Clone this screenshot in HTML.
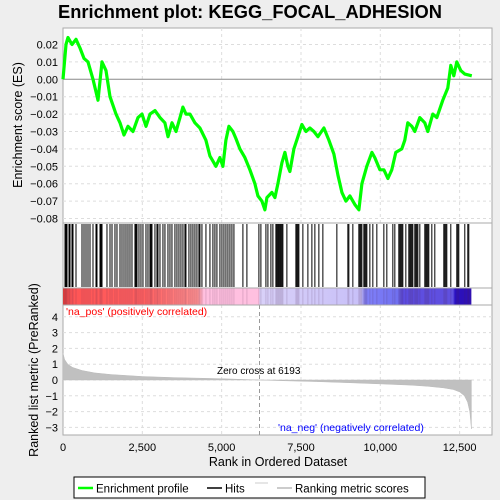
<!DOCTYPE html>
<html><head><meta charset="utf-8"><style>
body{margin:0;background:#eeeeee;}
svg{display:block;font-family:"Liberation Sans",sans-serif;}
</style></head><body>
<svg id="c" width="500" height="500" xmlns="http://www.w3.org/2000/svg">
<text x="250" y="18" text-anchor="middle" font-size="18.3" font-weight="bold" fill="#000">Enrichment plot: KEGG_FOCAL_ADHESION</text>
<rect x="63" y="28" width="429" height="407" fill="#fff" stroke="#aaa"/>
<g id="grid"></g>
<g id="es"></g>
<g id="hits"></g>
<g id="bar"></g>
<g id="metric"></g>
<g id="axes"></g>
<g>
<rect x="74" y="477" width="351" height="21" fill="#fff" stroke="#000"/>
<line x1="78" y1="488" x2="93" y2="488" stroke="#00ff00" stroke-width="2.5"/>
<text x="96" y="492.5" font-size="11.5">Enrichment profile</text>
<line x1="207" y1="488" x2="222" y2="488" stroke="#000" stroke-width="1.5"/>
<text x="225" y="492.5" font-size="11.5">Hits</text>
<line x1="255" y1="483" x2="268" y2="483" stroke="#ccc"/>
<line x1="277" y1="488" x2="292" y2="488" stroke="#bbb" stroke-width="1.5"/>
<text x="295" y="492.5" font-size="11.5">Ranking metric scores</text>
</g>
</svg>
<script>
const esRanks=[0,95,158,284,410,536,662,788,945,1103,1229,1355,1481,1670,1796,1922,2048,2205,2363,2489,2615,2741,2898,3056,3213,3308,3434,3560,3686,3780,3875,4001,4158,4316,4505,4631,4725,4820,4946,5040,5135,5229,5355,5450,5576,5733,5891,6048,6143,6269,6363,6426,6584,6678,6773,6899,6993,7088,7151,7277,7403,7529,7655,7781,7907,8033,8222,8379,8537,8663,8789,8915,9041,9198,9324,9419,9576,9734,9828,9986,10112,10238,10364,10490,10679,10773,10868,10994,11088,11246,11403,11498,11655,11781,11970,12128,12222,12317,12411,12537,12663,12884];
const esValues=[0,0.02,0.024,0.02,0.023,0.018,0.012,0.01,0.0,-0.012,0.01,0.005,-0.01,-0.02,-0.025,-0.032,-0.027,-0.03,-0.022,-0.02,-0.027,-0.02,-0.018,-0.022,-0.025,-0.033,-0.025,-0.03,-0.022,-0.016,-0.02,-0.02,-0.025,-0.028,-0.035,-0.044,-0.047,-0.05,-0.045,-0.05,-0.035,-0.027,-0.03,-0.034,-0.04,-0.045,-0.052,-0.06,-0.067,-0.07,-0.075,-0.068,-0.065,-0.068,-0.06,-0.048,-0.042,-0.05,-0.053,-0.04,-0.033,-0.026,-0.03,-0.028,-0.03,-0.033,-0.028,-0.035,-0.043,-0.055,-0.065,-0.07,-0.067,-0.072,-0.075,-0.06,-0.05,-0.042,-0.045,-0.052,-0.052,-0.057,-0.052,-0.042,-0.04,-0.035,-0.025,-0.027,-0.03,-0.022,-0.025,-0.03,-0.02,-0.022,-0.012,-0.005,0.008,0.002,0.01,0.005,0.003,0.002];
const hitRanks=[63,95,126,189,221,284,315,410,599,662,725,788,851,945,1040,1071,1166,1197,1229,1386,1481,1544,1638,1701,1796,1859,1922,1985,2048,2111,2174,2268,2300,2331,2394,2457,2520,2615,2678,2741,2772,2804,2898,2961,2993,3056,3150,3213,3308,3371,3434,3528,3591,3654,3717,3780,3843,3875,3969,4032,4095,4158,4221,4284,4316,4379,4505,4631,4725,4788,4851,4946,5009,5072,5135,5198,5261,5324,5387,5670,5796,6174,6237,6395,6458,6552,6615,6710,6741,6773,6804,6836,6867,6899,6930,7056,7340,7371,7403,7434,7560,7718,7844,7938,8064,8190,8631,8978,9009,9135,9324,9356,9387,9419,9482,9513,9545,9576,9671,9765,9891,10112,10206,10395,10458,10584,10616,10647,10679,10710,10805,10899,10931,10962,10994,11025,11088,11120,11151,11183,11246,11403,11435,11466,11498,11529,11624,11718,12002,12033,12065,12096,12222,12411,12443,12474,12663,12758,12789];
const metricRanks=[0,50,150,300,600,1000,1500,2500,3500,5000,6193,7000,8000,9000,10000,11000,11500,12000,12300,12500,12650,12750,12820,12850,12870];
const metricValues=[1.7,1.3,1.0,0.8,0.6,0.45,0.35,0.22,0.15,0.08,0.0,-0.05,-0.1,-0.17,-0.25,-0.33,-0.4,-0.5,-0.6,-0.75,-1.0,-1.4,-2.0,-2.6,-3.1];
const xTicks=[0,2500,5000,7500,10000,12500];
const xTickLabels=["0","2,500","5,000","7,500","10,000","12,500"];
const esTicks=[0.02,0.01,0,-0.01,-0.02,-0.03,-0.04,-0.05,-0.06,-0.07,-0.08];
const esTickLabels=["0.02","0.01","0.00","\u22120.01","\u22120.02","\u22120.03","\u22120.04","\u22120.05","\u22120.06","\u22120.07","\u22120.08"];
const mTicks=[4,3,2,1,0,-1,-2,-3];
const mTickLabels=["4","3","2","1","0","\u22121","\u22122","\u22123"];
const NS="http://www.w3.org/2000/svg";
const X=r=>63+r*0.03173;
const YE=v=>79.3-v*1740;
const YM=v=>380-v*15.8;
function mk(tag,attrs,parent){const e=document.createElementNS(NS,tag);for(const k in attrs)e.setAttribute(k,attrs[k]);document.getElementById(parent).appendChild(e);return e;}
xTicks.forEach(t=>{if(t===0)return;
 let g=mk('line',{x1:X(t),x2:X(t),y1:28,y2:223,stroke:'#ddd','stroke-dasharray':'3,3'},'grid');
 
 
 let g2=mk('line',{x1:X(t),x2:X(t),y1:305,y2:435,stroke:'#ddd','stroke-dasharray':'3,3'},'grid');
 
 
});
esTicks.forEach((t,i)=>{
 let g=mk('line',{x1:63,x2:492,y1:YE(t),y2:YE(t),stroke:t===0?'#888':'#ddd','stroke-dasharray':t===0?'':'3,3'},'grid');
 
 
 let tx=mk('text',{x:58,y:YE(t)+4,'text-anchor':'end','font-size':'11'},'axes');tx.textContent=esTickLabels[i];
 
 
});
mTicks.forEach((t,i)=>{
 let g=mk('line',{x1:63,x2:492,y1:YM(t),y2:YM(t),stroke:'#ddd','stroke-dasharray':'3,3'},'grid');
 
 
 let tx=mk('text',{x:58,y:YM(t)+4,'text-anchor':'end','font-size':'11'},'axes');tx.textContent=mTickLabels[i];
 
 
});
let zc=mk('line',{x1:X(6193),x2:X(6193),y1:305,y2:435,stroke:'#999','stroke-dasharray':'4,3'},'grid');


[223,288,305].forEach(y=>{let l=mk('line',{x1:63,x2:492,y1:y,y2:y,stroke:'#aaa'},'axes');
 
 });
let d=esRanks.map((r,i)=>(i?'L':'M')+X(r).toFixed(1)+','+YE(esValues[i]).toFixed(1)).join('');
let p=mk('path',{d:d,fill:'none',stroke:'#00ff00','stroke-width':3.2,'stroke-linejoin':'round'},'es');


hitRanks.forEach(r=>{let l=mk('line',{x1:X(r),x2:X(r),y1:224,y2:287,stroke:'#000','stroke-width':1},'hits');
 
 });
const defs=mk('defs',{},'bar');
const lg=document.createElementNS(NS,'linearGradient');lg.setAttribute('id','cb');defs.appendChild(lg);
[[0,'#d83a3a'],[0.02,'#ff5555'],[0.2,'#ff6060'],[0.33,'#ff9090'],[0.345,'#ffc0e0'],[0.48,'#ffc0e0'],[0.482,'#d8d0f8'],[0.73,'#c8c0f8'],[0.74,'#8080f8'],[0.82,'#7070f0'],[0.83,'#5c4ce0'],[0.955,'#6050e0'],[0.96,'#2a10c0'],[1,'#3010b0']].forEach(s=>{const st=document.createElementNS(NS,'stop');st.setAttribute('offset',s[0]);st.setAttribute('stop-color',s[1]);lg.appendChild(st);});
let cb=mk('rect',{x:63,y:288,width:X(12870)-63,height:17,fill:'url(#cb)'},'bar');


hitRanks.forEach(r=>{let l=mk('line',{x1:X(r),x2:X(r),y1:288,y2:305,stroke:'rgba(80,40,80,0.18)','stroke-width':1},'bar');
 
 });
let md='M'+X(0)+','+YM(0)+metricRanks.map((r,i)=>'L'+X(r).toFixed(1)+','+YM(metricValues[i]).toFixed(1)).join('')+'L'+X(12870)+','+YM(0)+'Z';
let ma=mk('path',{d:md,fill:'#c0c0c0',stroke:'#bbb','stroke-width':0.5},'metric');


xTicks.forEach((t,i)=>{let tx=mk('text',{x:X(t),y:451,'text-anchor':'middle','font-size':'11'},'axes');tx.textContent=xTickLabels[i];
 
 });
function txt(s,a,name){let t=mk('text',a,'axes');t.textContent=s;
 
 return t;}
txt('Rank in Ordered Dataset',{x:278,y:466,'text-anchor':'middle','font-size':'12.5'},'x-axis-title');
txt('Enrichment score (ES)',{x:0,y:0,'text-anchor':'middle','font-size':'12.5',transform:'translate(22,125) rotate(-90)'},'es-y-axis-title');
txt('Ranked list metric (PreRanked)',{x:0,y:0,'text-anchor':'middle','font-size':'12.5',transform:'translate(38,370) rotate(-90)'},'metric-y-axis-title');
txt("'na_pos' (positively correlated)",{x:66,y:315,'font-size':'10.5',fill:'#ff0000'},'na-pos-label');
txt("'na_neg' (negatively correlated)",{x:278,y:431,'font-size':'10.5',fill:'#0000ff'},'na-neg-label');
txt('Zero cross at 6193',{x:217,y:374,'font-size':'10',fill:'#000'},'zero-cross-label');
</script>
</body></html>
